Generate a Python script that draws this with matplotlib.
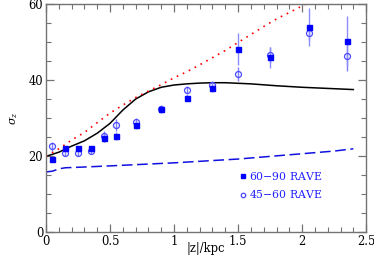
import matplotlib
matplotlib.use("Agg")
import matplotlib.pyplot as plt

plt.rcParams['font.family'] = ['DejaVu Serif']
plt.rcParams['mathtext.fontset'] = 'dejavuserif'

# RAVE data points
z_pts = [0.05, 0.15, 0.25, 0.35, 0.45, 0.55, 0.7, 0.9, 1.1, 1.3, 1.5, 1.75, 2.05, 2.35]
sig_6090 = [19.1, 22.0, 22.0, 22.0, 24.8, 25.3, 28.2, 32.4, 35.4, 37.8, 48.2, 46.0, 53.9, 50.3]
err_6090 = [0.6, 0.6, 0.6, 0.6, 1.2, 1.0, 1.0, 1.0, 1.0, 1.0, 4.2, 2.7, 5.0, 6.6]
sig_4560 = [22.6, 20.9, 20.9, 21.4, 25.2, 28.2, 28.9, 32.5, 37.5, 38.7, 41.6, 46.6, 52.5, 46.3]
err_4560 = [1.2, 0.8, 0.8, 0.8, 1.5, 1.5, 1.0, 0.8, 1.0, 1.0, 1.8, 2.0, 2.0, 4.0]

# model curves
z_black = [0, 0.1, 0.2, 0.3, 0.4, 0.5, 0.6, 0.7, 0.8, 0.9, 1.0, 1.1, 1.2, 1.3, 1.4, 1.6, 1.8, 2.0, 2.2, 2.4]
sig_black = [19.9, 21.0, 22.6, 24.0, 26.0, 28.6, 32.1, 35.0, 36.9, 38.1, 38.7, 39.0, 39.2, 39.3, 39.3, 39.0, 38.5, 38.1, 37.8, 37.5]
z_red = [0, 0.1, 0.2, 0.3, 0.4, 0.5, 0.6, 0.7, 0.8, 0.9, 1.0, 1.1, 1.2, 1.3, 1.4, 1.5, 1.6, 1.7, 1.8, 1.9, 2.0, 2.1]
sig_red = [20.0, 21.9, 24.2, 26.2, 28.8, 31.3, 33.4, 35.4, 37.1, 38.8, 40.6, 42.2, 44.0, 45.9, 47.8, 49.9, 52.0, 54.1, 56.1, 57.8, 59.5, 61.2]
z_dash = [0, 0.05, 0.1, 0.15, 0.3, 0.5, 0.75, 1.0, 1.25, 1.5, 1.75, 2.0, 2.25, 2.4]
sig_dash = [15.8, 16.0, 16.6, 16.9, 17.1, 17.4, 17.8, 18.2, 18.7, 19.2, 19.9, 20.6, 21.3, 21.9]

fig = plt.figure(figsize=(3.74, 2.58), dpi=100)
ax = fig.add_axes([0.123, 0.101, 0.856, 0.883])

ax.plot(z_black, sig_black, color='black', lw=1.1)
ax.plot(z_red, sig_red, color='red', lw=1.2, ls=(0, (1, 3)))
ax.plot(z_dash, sig_dash, color='#1010e0', lw=1.1, ls=(0, (7, 3)))

ax.errorbar(z_pts, sig_4560, yerr=err_4560, fmt='none', ecolor='#7f7fff', elinewidth=1.0)
ax.errorbar(z_pts, sig_6090, yerr=err_6090, fmt='none', ecolor='#8c8cff', elinewidth=1.0)
ax.plot(z_pts, sig_4560, 'o', ms=4.3, mfc='none', mec='#4a4aff', mew=0.9, label='45$-$60 RAVE')
ax.plot(z_pts, sig_6090, 's', ms=3.6, color='#0000ff', label='60$-$90 RAVE')

h, l = ax.get_legend_handles_labels()
ax.legend(h[::-1], l[::-1], loc='upper left', bbox_to_anchor=(0.575, 0.315), frameon=False,
          handlelength=0.5, handletextpad=0.3, labelspacing=0.6, fontsize=7.8,
          labelcolor='#2020ff', markerscale=0.75)

ax.set_xlim(0, 2.5)
ax.set_ylim(0, 60)
ax.set_xticks([0, 0.5, 1, 1.5, 2, 2.5])
ax.set_xticklabels(['0', '0.5', '1', '1.5', '2', '2.5'])
ax.set_xticks([i * 0.1 for i in range(26)], minor=True)
ax.set_yticks([0, 20, 40, 60])
ax.set_yticks(range(0, 61, 5), minor=True)
ax.tick_params(which='both', direction='in', top=True, right=True, color='0.45', labelsize=8.3)
ax.tick_params(which='major', length=6, width=0.9, pad=2)
ax.tick_params(which='minor', length=3.5, width=0.8)
for s in ax.spines.values():
    s.set_color('0.45')
    s.set_linewidth(1.0)

ax.set_xlabel('|z|/kpc', fontsize=8.3)
ax.xaxis.set_label_coords(0.5, -0.045)
ax.set_ylabel(r'$\sigma_z$', fontsize=8, labelpad=6)

fig.savefig('out.png', dpi=100)
